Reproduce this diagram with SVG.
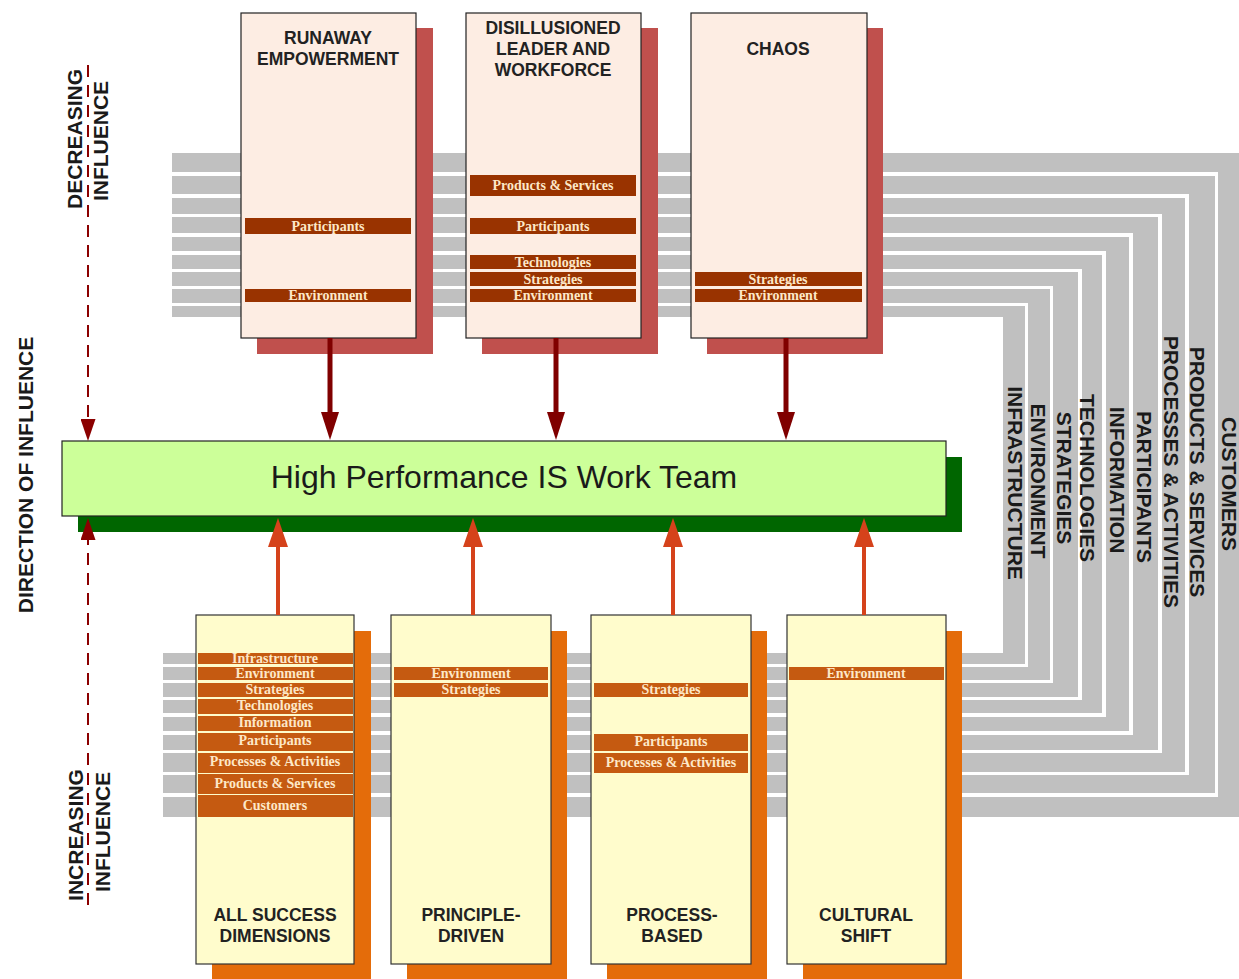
<svg xmlns="http://www.w3.org/2000/svg" width="1239" height="979" viewBox="0 0 1239 979">
  <defs>
    <style>
      .band{fill:#c0c0c0}
      .bandlbl{font-family:"Liberation Sans",Arial,sans-serif;font-weight:bold;font-size:21px;fill:#1a1a1a;text-anchor:middle}
      .topbox{fill:#fdede3;stroke:#222;stroke-width:1.2}
      .topshadow{fill:#c0504d}
      .botbox{fill:#fffccc;stroke:#333;stroke-width:1.2}
      .botshadow{fill:#e46c0a}
      .tbar{fill:#993300}
      .bbar{fill:#c55a11}
      .barlbl{font-family:"Liberation Serif","Times New Roman",serif;font-weight:bold;font-size:14px;fill:#fde8c8;text-anchor:middle}
      .title{font-family:"Liberation Sans",Arial,sans-serif;font-weight:bold;font-size:17.5px;fill:#222;text-anchor:middle}
      .side{font-family:"Liberation Sans",Arial,sans-serif;font-weight:bold;font-size:21px;fill:#1a1a1a;text-anchor:middle}
      .down{stroke:#800000;stroke-width:5;fill:none}
      .up{stroke:#d5421b;stroke-width:4;fill:none}
      .dash{stroke:#8b0000;stroke-width:2;stroke-dasharray:12 8;fill:none}
    </style>
    <marker id="headDown" markerUnits="userSpaceOnUse" viewBox="0 0 28 18" refX="0" refY="9" markerWidth="28" markerHeight="18" orient="auto">
      <path d="M0,0 L28,9 L0,18 z" fill="#800000"/>
    </marker>
    <marker id="headUp" markerUnits="userSpaceOnUse" viewBox="0 0 29 20" refX="0" refY="10" markerWidth="29" markerHeight="20" orient="auto">
      <path d="M0,0 L29,10 L0,20 z" fill="#d5421b"/>
    </marker>
    <marker id="headDash" markerUnits="userSpaceOnUse" viewBox="0 0 22 15" refX="0" refY="7.5" markerWidth="22" markerHeight="15" orient="auto">
      <path d="M0,0 L22,7.5 L0,15 z" fill="#8b0000"/>
    </marker>
  </defs>

  <rect width="1239" height="979" fill="#ffffff"/>

  <!-- success dimension bands: top run, right-hand column, bottom run -->
  <g id="bands">
    <polygon class="band" points="172,153 1245,153 1245,817 163,817 163,797 1218,797 1218,172 172,172"/>
    <polygon class="band" points="172,176 1215,176 1215,793 163,793 163,775 1189,775 1189,194 172,194"/>
    <polygon class="band" points="172,198 1185,198 1185,772 163,772 163,753 1162,753 1162,214 172,214"/>
    <polygon class="band" points="172,217 1158,217 1158,750 163,750 163,735 1133,735 1133,233 172,233"/>
    <polygon class="band" points="172,237 1129,237 1129,731 163,731 163,717 1106,717 1106,251 172,251"/>
    <polygon class="band" points="172,255 1102,255 1102,713 163,713 163,700 1082,700 1082,269 172,269"/>
    <polygon class="band" points="172,272 1078,272 1078,697 163,697 163,683 1053,683 1053,286 172,286"/>
    <polygon class="band" points="172,289 1050,289 1050,680 163,680 163,667 1028,667 1028,303 172,303"/>
    <polygon class="band" points="172,306 1025,306 1025,664 163,664 163,653 1003,653 1003,317 172,317"/>
    <text class="bandlbl" transform="translate(1008,483) rotate(90)">INFRASTRUCTURE</text>
    <text class="bandlbl" transform="translate(1031,481) rotate(90)">ENVIRONMENT</text>
    <text class="bandlbl" transform="translate(1057,478) rotate(90)">STRATEGIES</text>
    <text class="bandlbl" transform="translate(1080,478) rotate(90)">TECHNOLOGIES</text>
    <text class="bandlbl" transform="translate(1110,480) rotate(90)">INFORMATION</text>
    <text class="bandlbl" transform="translate(1137,487) rotate(90)">PARTICIPANTS</text>
    <text class="bandlbl" transform="translate(1164,472) rotate(90)">PROCESSES &amp; ACTIVITIES</text>
    <text class="bandlbl" transform="translate(1190,472) rotate(90)">PRODUCTS &amp; SERVICES</text>
    <text class="bandlbl" transform="translate(1222,484) rotate(90)">CUSTOMERS</text>
  </g>

  <!-- decreasing-influence patterns -->
  <g id="runaway-empowerment">
    <rect class="topshadow" x="257" y="28" width="176" height="326"/>
    <rect class="topbox" x="241" y="13" width="175" height="325"/>
    <text class="title" x="328" y="44">RUNAWAY</text>
    <text class="title" x="328" y="65">EMPOWERMENT</text>
    <rect class="tbar" x="245" y="218" width="166" height="16"/>
    <text class="barlbl" x="328" y="231">Participants</text>
    <rect class="tbar" x="245" y="289" width="166" height="13"/>
    <text class="barlbl" x="328" y="300">Environment</text>
  </g>

  <g id="disillusioned-leader">
    <rect class="topshadow" x="482" y="28" width="176" height="326"/>
    <rect class="topbox" x="466" y="13" width="175" height="325"/>
    <text class="title" x="553" y="34">DISILLUSIONED</text>
    <text class="title" x="553" y="55">LEADER AND</text>
    <text class="title" x="553" y="76">WORKFORCE</text>
    <rect class="tbar" x="470" y="175" width="166" height="21"/>
    <text class="barlbl" x="553" y="190">Products &amp; Services</text>
    <rect class="tbar" x="470" y="218" width="166" height="16"/>
    <text class="barlbl" x="553" y="231">Participants</text>
    <rect class="tbar" x="470" y="255" width="166" height="14"/>
    <text class="barlbl" x="553" y="267">Technologies</text>
    <rect class="tbar" x="470" y="272" width="166" height="14"/>
    <text class="barlbl" x="553" y="284">Strategies</text>
    <rect class="tbar" x="470" y="289" width="166" height="13"/>
    <text class="barlbl" x="553" y="300">Environment</text>
  </g>

  <g id="chaos">
    <rect class="topshadow" x="707" y="28" width="176" height="326"/>
    <rect class="topbox" x="691" y="13" width="176" height="325"/>
    <text class="title" x="778" y="55">CHAOS</text>
    <rect class="tbar" x="695" y="272" width="167" height="14"/>
    <text class="barlbl" x="778" y="284">Strategies</text>
    <rect class="tbar" x="695" y="289" width="167" height="13"/>
    <text class="barlbl" x="778" y="300">Environment</text>
  </g>

  <!-- central team -->
  <g id="work-team">
    <rect x="78" y="457" width="884" height="75" fill="#006600"/>
    <rect x="62" y="441" width="884" height="75" fill="#ccff99" stroke="#222" stroke-width="1.2"/>
    <text x="504" y="488" font-family="Liberation Sans, Arial, sans-serif" font-size="32" fill="#1a1a1a" text-anchor="middle">High Performance IS Work Team</text>
  </g>

  <!-- increasing-influence patterns -->
  <g id="all-success-dimensions">
    <rect class="botshadow" x="212" y="631" width="159" height="360"/>
    <rect class="botbox" x="196" y="615" width="158" height="349"/>
    <rect class="bbar" x="198" y="653" width="155" height="11"/>
    <text class="barlbl" x="275" y="663">Infrastructure</text>
    <rect class="bbar" x="198" y="667" width="155" height="13"/>
    <text class="barlbl" x="275" y="678">Environment</text>
    <rect class="bbar" x="198" y="683" width="155" height="14"/>
    <text class="barlbl" x="275" y="694">Strategies</text>
    <rect class="bbar" x="198" y="699" width="155" height="15"/>
    <text class="barlbl" x="275" y="710">Technologies</text>
    <rect class="bbar" x="198" y="716" width="155" height="15"/>
    <text class="barlbl" x="275" y="727">Information</text>
    <rect class="bbar" x="198" y="733" width="155" height="18"/>
    <text class="barlbl" x="275" y="745">Participants</text>
    <rect class="bbar" x="198" y="753" width="155" height="20"/>
    <text class="barlbl" x="275" y="766">Processes &amp; Activities</text>
    <rect class="bbar" x="198" y="774" width="155" height="20"/>
    <text class="barlbl" x="275" y="788">Products &amp; Services</text>
    <rect class="bbar" x="198" y="795" width="155" height="22"/>
    <text class="barlbl" x="275" y="810">Customers</text>
    <text class="title" x="275" y="921">ALL SUCCESS</text>
    <text class="title" x="275" y="942">DIMENSIONS</text>
  </g>

  <g id="principle-driven">
    <rect class="botshadow" x="407" y="631" width="160" height="360"/>
    <rect class="botbox" x="391" y="615" width="160" height="349"/>
    <rect class="bbar" x="394" y="667" width="154" height="13"/>
    <text class="barlbl" x="471" y="678">Environment</text>
    <rect class="bbar" x="394" y="683" width="154" height="14"/>
    <text class="barlbl" x="471" y="694">Strategies</text>
    <text class="title" x="471" y="921">PRINCIPLE-</text>
    <text class="title" x="471" y="942">DRIVEN</text>
  </g>

  <g id="process-based">
    <rect class="botshadow" x="607" y="631" width="160" height="360"/>
    <rect class="botbox" x="591" y="615" width="160" height="349"/>
    <rect class="bbar" x="594" y="683" width="154" height="14"/>
    <text class="barlbl" x="671" y="694">Strategies</text>
    <rect class="bbar" x="594" y="734" width="154" height="17"/>
    <text class="barlbl" x="671" y="746">Participants</text>
    <rect class="bbar" x="594" y="753" width="154" height="20"/>
    <text class="barlbl" x="671" y="767">Processes &amp; Activities</text>
    <text class="title" x="672" y="921">PROCESS-</text>
    <text class="title" x="672" y="942">BASED</text>
  </g>

  <g id="cultural-shift">
    <rect class="botshadow" x="803" y="631" width="159" height="360"/>
    <rect class="botbox" x="787" y="615" width="159" height="349"/>
    <rect class="bbar" x="789" y="667" width="155" height="13"/>
    <text class="barlbl" x="866" y="678">Environment</text>
    <text class="title" x="866" y="921">CULTURAL</text>
    <text class="title" x="866" y="942">SHIFT</text>
  </g>

  <!-- influence arrows -->
  <g id="connectors">
    <line class="down" x1="330" y1="338" x2="330" y2="412" marker-end="url(#headDown)"/>
    <line class="down" x1="556" y1="338" x2="556" y2="412" marker-end="url(#headDown)"/>
    <line class="down" x1="786" y1="338" x2="786" y2="412" marker-end="url(#headDown)"/>
    <line class="up" x1="278" y1="615" x2="278" y2="547" marker-end="url(#headUp)"/>
    <line class="up" x1="473" y1="615" x2="473" y2="547" marker-end="url(#headUp)"/>
    <line class="up" x1="673" y1="615" x2="673" y2="547" marker-end="url(#headUp)"/>
    <line class="up" x1="864" y1="615" x2="864" y2="547" marker-end="url(#headUp)"/>
    <line class="dash" x1="88" y1="65" x2="88" y2="419" marker-end="url(#headDash)"/>
    <line class="dash" x1="88" y1="905" x2="88" y2="540" marker-end="url(#headDash)"/>
  </g>

  <!-- axis captions -->
  <g id="axis-labels">
    <text class="side" transform="translate(82,139) rotate(-90)">DECREASING</text>
    <text class="side" transform="translate(108,141) rotate(-90)">INFLUENCE</text>
    <text class="side" font-size="24" transform="translate(33,475) rotate(-90)">DIRECTION OF INFLUENCE</text>
    <text class="side" transform="translate(83,835) rotate(-90)">INCREASING</text>
    <text class="side" transform="translate(110,832) rotate(-90)">INFLUENCE</text>
  </g>
</svg>
